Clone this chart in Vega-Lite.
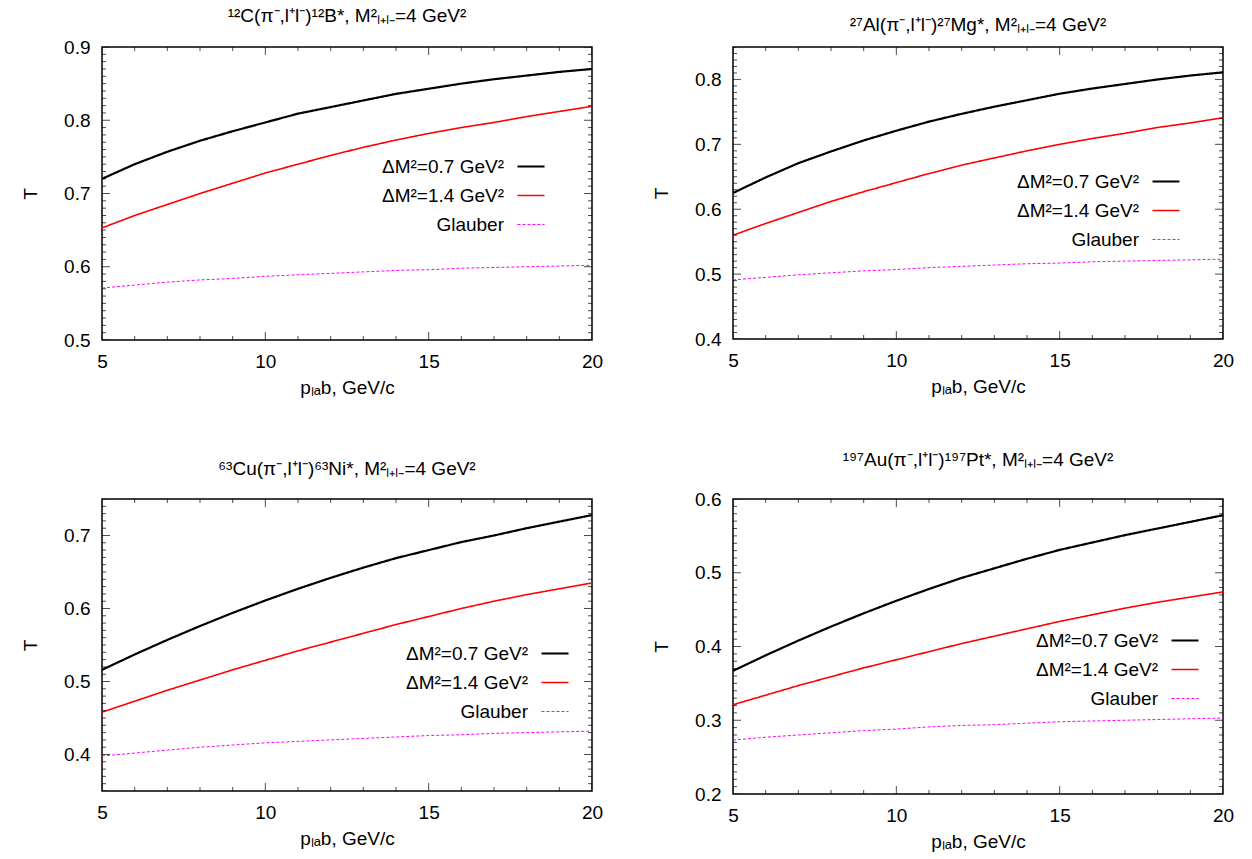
{
  "$schema": "https://vega.github.io/schema/vega-lite/v6.json",
  "padding": {"left": 20, "top": 6, "right": 5, "bottom": 5},
  "datasets": {
    "curves": [
      {"panel":"C","series":"a","p":5,"T":0.720},{"panel":"C","series":"a","p":6,"T":0.740},{"panel":"C","series":"a","p":7,"T":0.757},{"panel":"C","series":"a","p":8,"T":0.772},
      {"panel":"C","series":"a","p":9,"T":0.785},{"panel":"C","series":"a","p":10,"T":0.797},{"panel":"C","series":"a","p":11,"T":0.809},{"panel":"C","series":"a","p":12,"T":0.818},
      {"panel":"C","series":"a","p":13,"T":0.827},{"panel":"C","series":"a","p":14,"T":0.836},{"panel":"C","series":"a","p":15,"T":0.843},{"panel":"C","series":"a","p":16,"T":0.850},
      {"panel":"C","series":"a","p":17,"T":0.856},{"panel":"C","series":"a","p":18,"T":0.861},{"panel":"C","series":"a","p":19,"T":0.866},{"panel":"C","series":"a","p":20,"T":0.870},
      {"panel":"C","series":"b","p":5,"T":0.653},{"panel":"C","series":"b","p":6,"T":0.670},{"panel":"C","series":"b","p":7,"T":0.685},{"panel":"C","series":"b","p":8,"T":0.700},
      {"panel":"C","series":"b","p":9,"T":0.714},{"panel":"C","series":"b","p":10,"T":0.728},{"panel":"C","series":"b","p":11,"T":0.740},{"panel":"C","series":"b","p":12,"T":0.752},
      {"panel":"C","series":"b","p":13,"T":0.763},{"panel":"C","series":"b","p":14,"T":0.773},{"panel":"C","series":"b","p":15,"T":0.782},{"panel":"C","series":"b","p":16,"T":0.790},
      {"panel":"C","series":"b","p":17,"T":0.797},{"panel":"C","series":"b","p":18,"T":0.805},{"panel":"C","series":"b","p":19,"T":0.812},{"panel":"C","series":"b","p":20,"T":0.819},
      {"panel":"C","series":"g","p":5,"T":0.571},{"panel":"C","series":"g","p":6,"T":0.575},{"panel":"C","series":"g","p":7,"T":0.579},{"panel":"C","series":"g","p":8,"T":0.582},
      {"panel":"C","series":"g","p":9,"T":0.584},{"panel":"C","series":"g","p":10,"T":0.587},{"panel":"C","series":"g","p":11,"T":0.589},{"panel":"C","series":"g","p":12,"T":0.591},
      {"panel":"C","series":"g","p":13,"T":0.593},{"panel":"C","series":"g","p":14,"T":0.595},{"panel":"C","series":"g","p":15,"T":0.596},{"panel":"C","series":"g","p":16,"T":0.598},
      {"panel":"C","series":"g","p":17,"T":0.599},{"panel":"C","series":"g","p":18,"T":0.600},{"panel":"C","series":"g","p":19,"T":0.601},{"panel":"C","series":"g","p":20,"T":0.602},

      {"panel":"Al","series":"a","p":5,"T":0.625},{"panel":"Al","series":"a","p":6,"T":0.649},{"panel":"Al","series":"a","p":7,"T":0.671},{"panel":"Al","series":"a","p":8,"T":0.689},
      {"panel":"Al","series":"a","p":9,"T":0.706},{"panel":"Al","series":"a","p":10,"T":0.721},{"panel":"Al","series":"a","p":11,"T":0.735},{"panel":"Al","series":"a","p":12,"T":0.747},
      {"panel":"Al","series":"a","p":13,"T":0.758},{"panel":"Al","series":"a","p":14,"T":0.768},{"panel":"Al","series":"a","p":15,"T":0.778},{"panel":"Al","series":"a","p":16,"T":0.786},
      {"panel":"Al","series":"a","p":17,"T":0.793},{"panel":"Al","series":"a","p":18,"T":0.800},{"panel":"Al","series":"a","p":19,"T":0.806},{"panel":"Al","series":"a","p":20,"T":0.811},
      {"panel":"Al","series":"b","p":5,"T":0.560},{"panel":"Al","series":"b","p":6,"T":0.578},{"panel":"Al","series":"b","p":7,"T":0.595},{"panel":"Al","series":"b","p":8,"T":0.612},
      {"panel":"Al","series":"b","p":9,"T":0.627},{"panel":"Al","series":"b","p":10,"T":0.641},{"panel":"Al","series":"b","p":11,"T":0.655},{"panel":"Al","series":"b","p":12,"T":0.668},
      {"panel":"Al","series":"b","p":13,"T":0.679},{"panel":"Al","series":"b","p":14,"T":0.690},{"panel":"Al","series":"b","p":15,"T":0.700},{"panel":"Al","series":"b","p":16,"T":0.709},
      {"panel":"Al","series":"b","p":17,"T":0.717},{"panel":"Al","series":"b","p":18,"T":0.726},{"panel":"Al","series":"b","p":19,"T":0.733},{"panel":"Al","series":"b","p":20,"T":0.741},
      {"panel":"Al","series":"g","p":5,"T":0.491},{"panel":"Al","series":"g","p":6,"T":0.495},{"panel":"Al","series":"g","p":7,"T":0.499},{"panel":"Al","series":"g","p":8,"T":0.502},
      {"panel":"Al","series":"g","p":9,"T":0.505},{"panel":"Al","series":"g","p":10,"T":0.507},{"panel":"Al","series":"g","p":11,"T":0.510},{"panel":"Al","series":"g","p":12,"T":0.512},
      {"panel":"Al","series":"g","p":13,"T":0.514},{"panel":"Al","series":"g","p":14,"T":0.516},{"panel":"Al","series":"g","p":15,"T":0.517},{"panel":"Al","series":"g","p":16,"T":0.519},
      {"panel":"Al","series":"g","p":17,"T":0.520},{"panel":"Al","series":"g","p":18,"T":0.521},{"panel":"Al","series":"g","p":19,"T":0.522},{"panel":"Al","series":"g","p":20,"T":0.523},

      {"panel":"Cu","series":"a","p":5,"T":0.516},{"panel":"Cu","series":"a","p":6,"T":0.537},{"panel":"Cu","series":"a","p":7,"T":0.557},{"panel":"Cu","series":"a","p":8,"T":0.576},
      {"panel":"Cu","series":"a","p":9,"T":0.594},{"panel":"Cu","series":"a","p":10,"T":0.611},{"panel":"Cu","series":"a","p":11,"T":0.627},{"panel":"Cu","series":"a","p":12,"T":0.642},
      {"panel":"Cu","series":"a","p":13,"T":0.656},{"panel":"Cu","series":"a","p":14,"T":0.669},{"panel":"Cu","series":"a","p":15,"T":0.680},{"panel":"Cu","series":"a","p":16,"T":0.691},
      {"panel":"Cu","series":"a","p":17,"T":0.700},{"panel":"Cu","series":"a","p":18,"T":0.710},{"panel":"Cu","series":"a","p":19,"T":0.719},{"panel":"Cu","series":"a","p":20,"T":0.728},
      {"panel":"Cu","series":"b","p":5,"T":0.458},{"panel":"Cu","series":"b","p":6,"T":0.473},{"panel":"Cu","series":"b","p":7,"T":0.488},{"panel":"Cu","series":"b","p":8,"T":0.502},
      {"panel":"Cu","series":"b","p":9,"T":0.516},{"panel":"Cu","series":"b","p":10,"T":0.529},{"panel":"Cu","series":"b","p":11,"T":0.542},{"panel":"Cu","series":"b","p":12,"T":0.554},
      {"panel":"Cu","series":"b","p":13,"T":0.566},{"panel":"Cu","series":"b","p":14,"T":0.578},{"panel":"Cu","series":"b","p":15,"T":0.589},{"panel":"Cu","series":"b","p":16,"T":0.600},
      {"panel":"Cu","series":"b","p":17,"T":0.610},{"panel":"Cu","series":"b","p":18,"T":0.619},{"panel":"Cu","series":"b","p":19,"T":0.627},{"panel":"Cu","series":"b","p":20,"T":0.635},
      {"panel":"Cu","series":"g","p":5,"T":0.398},{"panel":"Cu","series":"g","p":6,"T":0.402},{"panel":"Cu","series":"g","p":7,"T":0.406},{"panel":"Cu","series":"g","p":8,"T":0.410},
      {"panel":"Cu","series":"g","p":9,"T":0.413},{"panel":"Cu","series":"g","p":10,"T":0.416},{"panel":"Cu","series":"g","p":11,"T":0.418},{"panel":"Cu","series":"g","p":12,"T":0.420},
      {"panel":"Cu","series":"g","p":13,"T":0.422},{"panel":"Cu","series":"g","p":14,"T":0.424},{"panel":"Cu","series":"g","p":15,"T":0.426},{"panel":"Cu","series":"g","p":16,"T":0.427},
      {"panel":"Cu","series":"g","p":17,"T":0.429},{"panel":"Cu","series":"g","p":18,"T":0.430},{"panel":"Cu","series":"g","p":19,"T":0.431},{"panel":"Cu","series":"g","p":20,"T":0.432},

      {"panel":"Au","series":"a","p":5,"T":0.367},{"panel":"Au","series":"a","p":6,"T":0.388},{"panel":"Au","series":"a","p":7,"T":0.408},{"panel":"Au","series":"a","p":8,"T":0.427},
      {"panel":"Au","series":"a","p":9,"T":0.445},{"panel":"Au","series":"a","p":10,"T":0.462},{"panel":"Au","series":"a","p":11,"T":0.478},{"panel":"Au","series":"a","p":12,"T":0.493},
      {"panel":"Au","series":"a","p":13,"T":0.506},{"panel":"Au","series":"a","p":14,"T":0.519},{"panel":"Au","series":"a","p":15,"T":0.531},{"panel":"Au","series":"a","p":16,"T":0.541},
      {"panel":"Au","series":"a","p":17,"T":0.551},{"panel":"Au","series":"a","p":18,"T":0.560},{"panel":"Au","series":"a","p":19,"T":0.569},{"panel":"Au","series":"a","p":20,"T":0.578},
      {"panel":"Au","series":"b","p":5,"T":0.321},{"panel":"Au","series":"b","p":6,"T":0.334},{"panel":"Au","series":"b","p":7,"T":0.347},{"panel":"Au","series":"b","p":8,"T":0.359},
      {"panel":"Au","series":"b","p":9,"T":0.371},{"panel":"Au","series":"b","p":10,"T":0.382},{"panel":"Au","series":"b","p":11,"T":0.393},{"panel":"Au","series":"b","p":12,"T":0.404},
      {"panel":"Au","series":"b","p":13,"T":0.414},{"panel":"Au","series":"b","p":14,"T":0.424},{"panel":"Au","series":"b","p":15,"T":0.434},{"panel":"Au","series":"b","p":16,"T":0.443},
      {"panel":"Au","series":"b","p":17,"T":0.452},{"panel":"Au","series":"b","p":18,"T":0.460},{"panel":"Au","series":"b","p":19,"T":0.467},{"panel":"Au","series":"b","p":20,"T":0.474},
      {"panel":"Au","series":"g","p":5,"T":0.273},{"panel":"Au","series":"g","p":6,"T":0.277},{"panel":"Au","series":"g","p":7,"T":0.280},{"panel":"Au","series":"g","p":8,"T":0.283},
      {"panel":"Au","series":"g","p":9,"T":0.286},{"panel":"Au","series":"g","p":10,"T":0.288},{"panel":"Au","series":"g","p":11,"T":0.291},{"panel":"Au","series":"g","p":12,"T":0.293},
      {"panel":"Au","series":"g","p":13,"T":0.294},{"panel":"Au","series":"g","p":14,"T":0.296},{"panel":"Au","series":"g","p":15,"T":0.298},{"panel":"Au","series":"g","p":16,"T":0.299},
      {"panel":"Au","series":"g","p":17,"T":0.300},{"panel":"Au","series":"g","p":18,"T":0.301},{"panel":"Au","series":"g","p":19,"T":0.302},{"panel":"Au","series":"g","p":20,"T":0.303}
    ],
    "ticks": [
      {"panel":"all","axis":"x","v":5,"kind":"major"},{"panel":"all","axis":"x","v":6,"kind":"minor"},{"panel":"all","axis":"x","v":7,"kind":"minor"},{"panel":"all","axis":"x","v":8,"kind":"minor"},
      {"panel":"all","axis":"x","v":9,"kind":"minor"},{"panel":"all","axis":"x","v":10,"kind":"major"},{"panel":"all","axis":"x","v":11,"kind":"minor"},{"panel":"all","axis":"x","v":12,"kind":"minor"},
      {"panel":"all","axis":"x","v":13,"kind":"minor"},{"panel":"all","axis":"x","v":14,"kind":"minor"},{"panel":"all","axis":"x","v":15,"kind":"major"},{"panel":"all","axis":"x","v":16,"kind":"minor"},
      {"panel":"all","axis":"x","v":17,"kind":"minor"},{"panel":"all","axis":"x","v":18,"kind":"minor"},{"panel":"all","axis":"x","v":19,"kind":"minor"},{"panel":"all","axis":"x","v":20,"kind":"major"},

      {"panel":"C","axis":"y","v":0.50,"kind":"major"},{"panel":"C","axis":"y","v":0.51,"kind":"minor"},{"panel":"C","axis":"y","v":0.52,"kind":"minor"},{"panel":"C","axis":"y","v":0.53,"kind":"minor"},{"panel":"C","axis":"y","v":0.54,"kind":"minor"},
      {"panel":"C","axis":"y","v":0.55,"kind":"minor"},{"panel":"C","axis":"y","v":0.56,"kind":"minor"},{"panel":"C","axis":"y","v":0.57,"kind":"minor"},{"panel":"C","axis":"y","v":0.58,"kind":"minor"},{"panel":"C","axis":"y","v":0.59,"kind":"minor"},
      {"panel":"C","axis":"y","v":0.60,"kind":"major"},{"panel":"C","axis":"y","v":0.61,"kind":"minor"},{"panel":"C","axis":"y","v":0.62,"kind":"minor"},{"panel":"C","axis":"y","v":0.63,"kind":"minor"},{"panel":"C","axis":"y","v":0.64,"kind":"minor"},
      {"panel":"C","axis":"y","v":0.65,"kind":"minor"},{"panel":"C","axis":"y","v":0.66,"kind":"minor"},{"panel":"C","axis":"y","v":0.67,"kind":"minor"},{"panel":"C","axis":"y","v":0.68,"kind":"minor"},{"panel":"C","axis":"y","v":0.69,"kind":"minor"},
      {"panel":"C","axis":"y","v":0.70,"kind":"major"},{"panel":"C","axis":"y","v":0.71,"kind":"minor"},{"panel":"C","axis":"y","v":0.72,"kind":"minor"},{"panel":"C","axis":"y","v":0.73,"kind":"minor"},{"panel":"C","axis":"y","v":0.74,"kind":"minor"},
      {"panel":"C","axis":"y","v":0.75,"kind":"minor"},{"panel":"C","axis":"y","v":0.76,"kind":"minor"},{"panel":"C","axis":"y","v":0.77,"kind":"minor"},{"panel":"C","axis":"y","v":0.78,"kind":"minor"},{"panel":"C","axis":"y","v":0.79,"kind":"minor"},
      {"panel":"C","axis":"y","v":0.80,"kind":"major"},{"panel":"C","axis":"y","v":0.81,"kind":"minor"},{"panel":"C","axis":"y","v":0.82,"kind":"minor"},{"panel":"C","axis":"y","v":0.83,"kind":"minor"},{"panel":"C","axis":"y","v":0.84,"kind":"minor"},
      {"panel":"C","axis":"y","v":0.85,"kind":"minor"},{"panel":"C","axis":"y","v":0.86,"kind":"minor"},{"panel":"C","axis":"y","v":0.87,"kind":"minor"},{"panel":"C","axis":"y","v":0.88,"kind":"minor"},{"panel":"C","axis":"y","v":0.89,"kind":"minor"},
      {"panel":"C","axis":"y","v":0.90,"kind":"major"},

      {"panel":"Al","axis":"y","v":0.40,"kind":"major"},{"panel":"Al","axis":"y","v":0.41,"kind":"minor"},{"panel":"Al","axis":"y","v":0.42,"kind":"minor"},{"panel":"Al","axis":"y","v":0.43,"kind":"minor"},{"panel":"Al","axis":"y","v":0.44,"kind":"minor"},
      {"panel":"Al","axis":"y","v":0.45,"kind":"minor"},{"panel":"Al","axis":"y","v":0.46,"kind":"minor"},{"panel":"Al","axis":"y","v":0.47,"kind":"minor"},{"panel":"Al","axis":"y","v":0.48,"kind":"minor"},{"panel":"Al","axis":"y","v":0.49,"kind":"minor"},
      {"panel":"Al","axis":"y","v":0.50,"kind":"major"},{"panel":"Al","axis":"y","v":0.51,"kind":"minor"},{"panel":"Al","axis":"y","v":0.52,"kind":"minor"},{"panel":"Al","axis":"y","v":0.53,"kind":"minor"},{"panel":"Al","axis":"y","v":0.54,"kind":"minor"},
      {"panel":"Al","axis":"y","v":0.55,"kind":"minor"},{"panel":"Al","axis":"y","v":0.56,"kind":"minor"},{"panel":"Al","axis":"y","v":0.57,"kind":"minor"},{"panel":"Al","axis":"y","v":0.58,"kind":"minor"},{"panel":"Al","axis":"y","v":0.59,"kind":"minor"},
      {"panel":"Al","axis":"y","v":0.60,"kind":"major"},{"panel":"Al","axis":"y","v":0.61,"kind":"minor"},{"panel":"Al","axis":"y","v":0.62,"kind":"minor"},{"panel":"Al","axis":"y","v":0.63,"kind":"minor"},{"panel":"Al","axis":"y","v":0.64,"kind":"minor"},
      {"panel":"Al","axis":"y","v":0.65,"kind":"minor"},{"panel":"Al","axis":"y","v":0.66,"kind":"minor"},{"panel":"Al","axis":"y","v":0.67,"kind":"minor"},{"panel":"Al","axis":"y","v":0.68,"kind":"minor"},{"panel":"Al","axis":"y","v":0.69,"kind":"minor"},
      {"panel":"Al","axis":"y","v":0.70,"kind":"major"},{"panel":"Al","axis":"y","v":0.71,"kind":"minor"},{"panel":"Al","axis":"y","v":0.72,"kind":"minor"},{"panel":"Al","axis":"y","v":0.73,"kind":"minor"},{"panel":"Al","axis":"y","v":0.74,"kind":"minor"},
      {"panel":"Al","axis":"y","v":0.75,"kind":"minor"},{"panel":"Al","axis":"y","v":0.76,"kind":"minor"},{"panel":"Al","axis":"y","v":0.77,"kind":"minor"},{"panel":"Al","axis":"y","v":0.78,"kind":"minor"},{"panel":"Al","axis":"y","v":0.79,"kind":"minor"},
      {"panel":"Al","axis":"y","v":0.80,"kind":"major"},{"panel":"Al","axis":"y","v":0.81,"kind":"minor"},{"panel":"Al","axis":"y","v":0.82,"kind":"minor"},{"panel":"Al","axis":"y","v":0.83,"kind":"minor"},{"panel":"Al","axis":"y","v":0.84,"kind":"minor"},
      {"panel":"Al","axis":"y","v":0.85,"kind":"minor"},

      {"panel":"Cu","axis":"y","v":0.35,"kind":"minor"},{"panel":"Cu","axis":"y","v":0.36,"kind":"minor"},{"panel":"Cu","axis":"y","v":0.37,"kind":"minor"},{"panel":"Cu","axis":"y","v":0.38,"kind":"minor"},{"panel":"Cu","axis":"y","v":0.39,"kind":"minor"},
      {"panel":"Cu","axis":"y","v":0.40,"kind":"major"},{"panel":"Cu","axis":"y","v":0.41,"kind":"minor"},{"panel":"Cu","axis":"y","v":0.42,"kind":"minor"},{"panel":"Cu","axis":"y","v":0.43,"kind":"minor"},{"panel":"Cu","axis":"y","v":0.44,"kind":"minor"},
      {"panel":"Cu","axis":"y","v":0.45,"kind":"minor"},{"panel":"Cu","axis":"y","v":0.46,"kind":"minor"},{"panel":"Cu","axis":"y","v":0.47,"kind":"minor"},{"panel":"Cu","axis":"y","v":0.48,"kind":"minor"},{"panel":"Cu","axis":"y","v":0.49,"kind":"minor"},
      {"panel":"Cu","axis":"y","v":0.50,"kind":"major"},{"panel":"Cu","axis":"y","v":0.51,"kind":"minor"},{"panel":"Cu","axis":"y","v":0.52,"kind":"minor"},{"panel":"Cu","axis":"y","v":0.53,"kind":"minor"},{"panel":"Cu","axis":"y","v":0.54,"kind":"minor"},
      {"panel":"Cu","axis":"y","v":0.55,"kind":"minor"},{"panel":"Cu","axis":"y","v":0.56,"kind":"minor"},{"panel":"Cu","axis":"y","v":0.57,"kind":"minor"},{"panel":"Cu","axis":"y","v":0.58,"kind":"minor"},{"panel":"Cu","axis":"y","v":0.59,"kind":"minor"},
      {"panel":"Cu","axis":"y","v":0.60,"kind":"major"},{"panel":"Cu","axis":"y","v":0.61,"kind":"minor"},{"panel":"Cu","axis":"y","v":0.62,"kind":"minor"},{"panel":"Cu","axis":"y","v":0.63,"kind":"minor"},{"panel":"Cu","axis":"y","v":0.64,"kind":"minor"},
      {"panel":"Cu","axis":"y","v":0.65,"kind":"minor"},{"panel":"Cu","axis":"y","v":0.66,"kind":"minor"},{"panel":"Cu","axis":"y","v":0.67,"kind":"minor"},{"panel":"Cu","axis":"y","v":0.68,"kind":"minor"},{"panel":"Cu","axis":"y","v":0.69,"kind":"minor"},
      {"panel":"Cu","axis":"y","v":0.70,"kind":"major"},{"panel":"Cu","axis":"y","v":0.71,"kind":"minor"},{"panel":"Cu","axis":"y","v":0.72,"kind":"minor"},{"panel":"Cu","axis":"y","v":0.73,"kind":"minor"},{"panel":"Cu","axis":"y","v":0.74,"kind":"minor"},
      {"panel":"Cu","axis":"y","v":0.75,"kind":"minor"},

      {"panel":"Au","axis":"y","v":0.20,"kind":"major"},{"panel":"Au","axis":"y","v":0.21,"kind":"minor"},{"panel":"Au","axis":"y","v":0.22,"kind":"minor"},{"panel":"Au","axis":"y","v":0.23,"kind":"minor"},{"panel":"Au","axis":"y","v":0.24,"kind":"minor"},
      {"panel":"Au","axis":"y","v":0.25,"kind":"minor"},{"panel":"Au","axis":"y","v":0.26,"kind":"minor"},{"panel":"Au","axis":"y","v":0.27,"kind":"minor"},{"panel":"Au","axis":"y","v":0.28,"kind":"minor"},{"panel":"Au","axis":"y","v":0.29,"kind":"minor"},
      {"panel":"Au","axis":"y","v":0.30,"kind":"major"},{"panel":"Au","axis":"y","v":0.31,"kind":"minor"},{"panel":"Au","axis":"y","v":0.32,"kind":"minor"},{"panel":"Au","axis":"y","v":0.33,"kind":"minor"},{"panel":"Au","axis":"y","v":0.34,"kind":"minor"},
      {"panel":"Au","axis":"y","v":0.35,"kind":"minor"},{"panel":"Au","axis":"y","v":0.36,"kind":"minor"},{"panel":"Au","axis":"y","v":0.37,"kind":"minor"},{"panel":"Au","axis":"y","v":0.38,"kind":"minor"},{"panel":"Au","axis":"y","v":0.39,"kind":"minor"},
      {"panel":"Au","axis":"y","v":0.40,"kind":"major"},{"panel":"Au","axis":"y","v":0.41,"kind":"minor"},{"panel":"Au","axis":"y","v":0.42,"kind":"minor"},{"panel":"Au","axis":"y","v":0.43,"kind":"minor"},{"panel":"Au","axis":"y","v":0.44,"kind":"minor"},
      {"panel":"Au","axis":"y","v":0.45,"kind":"minor"},{"panel":"Au","axis":"y","v":0.46,"kind":"minor"},{"panel":"Au","axis":"y","v":0.47,"kind":"minor"},{"panel":"Au","axis":"y","v":0.48,"kind":"minor"},{"panel":"Au","axis":"y","v":0.49,"kind":"minor"},
      {"panel":"Au","axis":"y","v":0.50,"kind":"major"},{"panel":"Au","axis":"y","v":0.51,"kind":"minor"},{"panel":"Au","axis":"y","v":0.52,"kind":"minor"},{"panel":"Au","axis":"y","v":0.53,"kind":"minor"},{"panel":"Au","axis":"y","v":0.54,"kind":"minor"},
      {"panel":"Au","axis":"y","v":0.55,"kind":"minor"},{"panel":"Au","axis":"y","v":0.56,"kind":"minor"},{"panel":"Au","axis":"y","v":0.57,"kind":"minor"},{"panel":"Au","axis":"y","v":0.58,"kind":"minor"},{"panel":"Au","axis":"y","v":0.59,"kind":"minor"},
      {"panel":"Au","axis":"y","v":0.60,"kind":"major"}
    ]
  },
  "spacing": 52,
  "resolve": {"scale": {"color": "independent", "strokeDash": "independent", "strokeWidth": "independent"}, "legend": {"color": "independent", "strokeDash": "independent", "strokeWidth": "independent"}},
  "vconcat": [
    {
      "spacing": 47,
      "resolve": {"scale": {"color": "independent", "strokeDash": "independent", "strokeWidth": "independent"}, "legend": {"color": "independent", "strokeDash": "independent", "strokeWidth": "independent"}},
      "hconcat": [
        {
          "width": 490, "height": 293,
          "title": {"text": "¹²C(π⁻,l⁺l⁻)¹²B*, M²ₗ₊ₗ₋=4 GeV²", "offset": 12},
          "resolve": {"axis": {"x": "independent", "y": "independent"}},
          "layer": [
            {
              "data": {"name": "curves"},
              "transform": [{"filter": "datum.panel === 'C'"}],
              "mark": {"type": "line"},
              "encoding": {
                "x": {"field": "p", "type": "quantitative", "scale": {"domain": [5, 20], "nice": false, "zero": false},
                  "axis": {"orient": "bottom", "title": "pₗₐb, GeV/c", "values": [5,10,15,20], "labelPadding": 12, "titlePadding": 7}},
                "y": {"field": "T", "type": "quantitative", "scale": {"domain": [0.5, 0.9], "nice": false, "zero": false},
                  "axis": {"orient": "left", "title": "T", "values": [0.5,0.6,0.7,0.8,0.9], "format": ".1f", "labelPadding": 12, "titlePadding": 23}},
                "color": {"field": "series", "type": "nominal", "scale": {"domain": ["a","b","g"], "range": ["#000000","#ff0000","#ff00ff"]},
                  "legend": {"orient": "none", "legendX": 406, "legendY": 110, "title": null, "symbolType": "M-60,0M0,0L5.4,0", "labelExpr": "datum.value === 'a' ? 'ΔM²=0.7 GeV²' : datum.value === 'b' ? 'ΔM²=1.4 GeV²' : 'Glauber'"}},
                "strokeDash": {"field": "series", "type": "nominal", "scale": {"domain": ["a","b","g"], "range": [[1,0],[1,0],[3,2]]},
                  "legend": {"orient": "none", "legendX": 406, "legendY": 110, "title": null, "symbolType": "M-60,0M0,0L5.4,0", "labelExpr": "datum.value === 'a' ? 'ΔM²=0.7 GeV²' : datum.value === 'b' ? 'ΔM²=1.4 GeV²' : 'Glauber'"}},
                "strokeWidth": {"field": "series", "type": "nominal", "scale": {"domain": ["a","b","g"], "range": [2.2,1,1.2]},
                  "legend": {"orient": "none", "legendX": 406, "legendY": 110, "title": null, "symbolType": "M-60,0M0,0L5.4,0", "labelExpr": "datum.value === 'a' ? 'ΔM²=0.7 GeV²' : datum.value === 'b' ? 'ΔM²=1.4 GeV²' : 'Glauber'"}}
              }
            },
            {"data": {"name": "ticks"}, "transform": [{"filter": "datum.axis === 'x'"}], "mark": {"type": "tick", "orient": "vertical", "clip": true, "color": "#000000", "thickness": 1},
              "encoding": {"x": {"field": "v", "type": "quantitative", "axis": null}, "y": {"datum": 0.5, "axis": null}, "size": {"field": "kind", "type": "nominal", "scale": {"domain": ["major","minor"], "range": [16,8]}, "legend": null}}},
            {"data": {"name": "ticks"}, "transform": [{"filter": "datum.axis === 'x'"}], "mark": {"type": "tick", "orient": "vertical", "clip": true, "color": "#000000", "thickness": 1},
              "encoding": {"x": {"field": "v", "type": "quantitative", "axis": null}, "y": {"datum": 0.9, "axis": null}, "size": {"field": "kind", "type": "nominal", "scale": {"domain": ["major","minor"], "range": [16,8]}, "legend": null}}},
            {"data": {"name": "ticks"}, "transform": [{"filter": "datum.panel === 'C'"}], "mark": {"type": "tick", "orient": "horizontal", "clip": true, "color": "#000000", "thickness": 1},
              "encoding": {"y": {"field": "v", "type": "quantitative", "axis": null}, "x": {"datum": 5, "axis": null}, "size": {"field": "kind", "type": "nominal", "scale": {"domain": ["major","minor"], "range": [16,8]}, "legend": null}}},
            {"data": {"name": "ticks"}, "transform": [{"filter": "datum.panel === 'C'"}], "mark": {"type": "tick", "orient": "horizontal", "clip": true, "color": "#000000", "thickness": 1},
              "encoding": {"y": {"field": "v", "type": "quantitative", "axis": null}, "x": {"datum": 20, "axis": null}, "size": {"field": "kind", "type": "nominal", "scale": {"domain": ["major","minor"], "range": [16,8]}, "legend": null}}}
          ]
        },
        {
          "width": 490, "height": 292,
          "title": {"text": "²⁷Al(π⁻,l⁺l⁻)²⁷Mg*, M²ₗ₊ₗ₋=4 GeV²", "offset": 12},
          "resolve": {"axis": {"x": "independent", "y": "independent"}},
          "layer": [
            {
              "data": {"name": "curves"},
              "transform": [{"filter": "datum.panel === 'Al'"}],
              "mark": {"type": "line"},
              "encoding": {
                "x": {"field": "p", "type": "quantitative", "scale": {"domain": [5, 20], "nice": false, "zero": false},
                  "axis": {"orient": "bottom", "title": "pₗₐb, GeV/c", "values": [5,10,15,20], "labelPadding": 12, "titlePadding": 7}},
                "y": {"field": "T", "type": "quantitative", "scale": {"domain": [0.4, 0.85], "nice": false, "zero": false},
                  "axis": {"orient": "left", "title": "T", "values": [0.4,0.5,0.6,0.7,0.8], "format": ".1f", "labelPadding": 12, "titlePadding": 23}},
                "color": {"field": "series", "type": "nominal", "scale": {"domain": ["a","b","g"], "range": ["#000000","#ff0000","#ff00ff"]},
                  "legend": {"orient": "none", "legendX": 410, "legendY": 125, "title": null, "symbolType": "M-60,0M0,0L5.4,0", "labelExpr": "datum.value === 'a' ? 'ΔM²=0.7 GeV²' : datum.value === 'b' ? 'ΔM²=1.4 GeV²' : 'Glauber'"}},
                "strokeDash": {"field": "series", "type": "nominal", "scale": {"domain": ["a","b","g"], "range": [[1,0],[1,0],[3,2]]},
                  "legend": {"orient": "none", "legendX": 410, "legendY": 125, "title": null, "symbolType": "M-60,0M0,0L5.4,0", "labelExpr": "datum.value === 'a' ? 'ΔM²=0.7 GeV²' : datum.value === 'b' ? 'ΔM²=1.4 GeV²' : 'Glauber'"}},
                "strokeWidth": {"field": "series", "type": "nominal", "scale": {"domain": ["a","b","g"], "range": [2.2,1,1.2]},
                  "legend": {"orient": "none", "legendX": 410, "legendY": 125, "title": null, "symbolType": "M-60,0M0,0L5.4,0", "labelExpr": "datum.value === 'a' ? 'ΔM²=0.7 GeV²' : datum.value === 'b' ? 'ΔM²=1.4 GeV²' : 'Glauber'"}}
              }
            },
            {"data": {"name": "ticks"}, "transform": [{"filter": "datum.axis === 'x'"}], "mark": {"type": "tick", "orient": "vertical", "clip": true, "color": "#000000", "thickness": 1},
              "encoding": {"x": {"field": "v", "type": "quantitative", "axis": null}, "y": {"datum": 0.4, "axis": null}, "size": {"field": "kind", "type": "nominal", "scale": {"domain": ["major","minor"], "range": [16,8]}, "legend": null}}},
            {"data": {"name": "ticks"}, "transform": [{"filter": "datum.axis === 'x'"}], "mark": {"type": "tick", "orient": "vertical", "clip": true, "color": "#000000", "thickness": 1},
              "encoding": {"x": {"field": "v", "type": "quantitative", "axis": null}, "y": {"datum": 0.85, "axis": null}, "size": {"field": "kind", "type": "nominal", "scale": {"domain": ["major","minor"], "range": [16,8]}, "legend": null}}},
            {"data": {"name": "ticks"}, "transform": [{"filter": "datum.panel === 'Al'"}], "mark": {"type": "tick", "orient": "horizontal", "clip": true, "color": "#000000", "thickness": 1},
              "encoding": {"y": {"field": "v", "type": "quantitative", "axis": null}, "x": {"datum": 5, "axis": null}, "size": {"field": "kind", "type": "nominal", "scale": {"domain": ["major","minor"], "range": [16,8]}, "legend": null}}},
            {"data": {"name": "ticks"}, "transform": [{"filter": "datum.panel === 'Al'"}], "mark": {"type": "tick", "orient": "horizontal", "clip": true, "color": "#000000", "thickness": 1},
              "encoding": {"y": {"field": "v", "type": "quantitative", "axis": null}, "x": {"datum": 20, "axis": null}, "size": {"field": "kind", "type": "nominal", "scale": {"domain": ["major","minor"], "range": [16,8]}, "legend": null}}}
          ]
        }
      ]
    },
    {
      "spacing": 47,
      "resolve": {"scale": {"color": "independent", "strokeDash": "independent", "strokeWidth": "independent"}, "legend": {"color": "independent", "strokeDash": "independent", "strokeWidth": "independent"}},
      "hconcat": [
        {
          "width": 490, "height": 292,
          "title": {"text": "⁶³Cu(π⁻,l⁺l⁻)⁶³Ni*, M²ₗ₊ₗ₋=4 GeV²", "offset": 20},
          "resolve": {"axis": {"x": "independent", "y": "independent"}},
          "layer": [
            {
              "data": {"name": "curves"},
              "transform": [{"filter": "datum.panel === 'Cu'"}],
              "mark": {"type": "line"},
              "encoding": {
                "x": {"field": "p", "type": "quantitative", "scale": {"domain": [5, 20], "nice": false, "zero": false},
                  "axis": {"orient": "bottom", "title": "pₗₐb, GeV/c", "values": [5,10,15,20], "labelPadding": 12, "titlePadding": 7}},
                "y": {"field": "T", "type": "quantitative", "scale": {"domain": [0.35, 0.75], "nice": false, "zero": false},
                  "axis": {"orient": "left", "title": "T", "values": [0.4,0.5,0.6,0.7], "format": ".1f", "labelPadding": 12, "titlePadding": 23}},
                "color": {"field": "series", "type": "nominal", "scale": {"domain": ["a","b","g"], "range": ["#000000","#ff0000","#ff00ff"]},
                  "legend": {"orient": "none", "legendX": 430, "legendY": 145, "title": null, "symbolType": "M-60,0M0,0L5.4,0", "labelExpr": "datum.value === 'a' ? 'ΔM²=0.7 GeV²' : datum.value === 'b' ? 'ΔM²=1.4 GeV²' : 'Glauber'"}},
                "strokeDash": {"field": "series", "type": "nominal", "scale": {"domain": ["a","b","g"], "range": [[1,0],[1,0],[3,2]]},
                  "legend": {"orient": "none", "legendX": 430, "legendY": 145, "title": null, "symbolType": "M-60,0M0,0L5.4,0", "labelExpr": "datum.value === 'a' ? 'ΔM²=0.7 GeV²' : datum.value === 'b' ? 'ΔM²=1.4 GeV²' : 'Glauber'"}},
                "strokeWidth": {"field": "series", "type": "nominal", "scale": {"domain": ["a","b","g"], "range": [2.2,1,1.2]},
                  "legend": {"orient": "none", "legendX": 430, "legendY": 145, "title": null, "symbolType": "M-60,0M0,0L5.4,0", "labelExpr": "datum.value === 'a' ? 'ΔM²=0.7 GeV²' : datum.value === 'b' ? 'ΔM²=1.4 GeV²' : 'Glauber'"}}
              }
            },
            {"data": {"name": "ticks"}, "transform": [{"filter": "datum.axis === 'x'"}], "mark": {"type": "tick", "orient": "vertical", "clip": true, "color": "#000000", "thickness": 1},
              "encoding": {"x": {"field": "v", "type": "quantitative", "axis": null}, "y": {"datum": 0.35, "axis": null}, "size": {"field": "kind", "type": "nominal", "scale": {"domain": ["major","minor"], "range": [16,8]}, "legend": null}}},
            {"data": {"name": "ticks"}, "transform": [{"filter": "datum.axis === 'x'"}], "mark": {"type": "tick", "orient": "vertical", "clip": true, "color": "#000000", "thickness": 1},
              "encoding": {"x": {"field": "v", "type": "quantitative", "axis": null}, "y": {"datum": 0.75, "axis": null}, "size": {"field": "kind", "type": "nominal", "scale": {"domain": ["major","minor"], "range": [16,8]}, "legend": null}}},
            {"data": {"name": "ticks"}, "transform": [{"filter": "datum.panel === 'Cu'"}], "mark": {"type": "tick", "orient": "horizontal", "clip": true, "color": "#000000", "thickness": 1},
              "encoding": {"y": {"field": "v", "type": "quantitative", "axis": null}, "x": {"datum": 5, "axis": null}, "size": {"field": "kind", "type": "nominal", "scale": {"domain": ["major","minor"], "range": [16,8]}, "legend": null}}},
            {"data": {"name": "ticks"}, "transform": [{"filter": "datum.panel === 'Cu'"}], "mark": {"type": "tick", "orient": "horizontal", "clip": true, "color": "#000000", "thickness": 1},
              "encoding": {"y": {"field": "v", "type": "quantitative", "axis": null}, "x": {"datum": 20, "axis": null}, "size": {"field": "kind", "type": "nominal", "scale": {"domain": ["major","minor"], "range": [16,8]}, "legend": null}}}
          ]
        },
        {
          "width": 490, "height": 295,
          "title": {"text": "¹⁹⁷Au(π⁻,l⁺l⁻)¹⁹⁷Pt*, M²ₗ₊ₗ₋=4 GeV²", "offset": 20},
          "resolve": {"axis": {"x": "independent", "y": "independent"}},
          "layer": [
            {
              "data": {"name": "curves"},
              "transform": [{"filter": "datum.panel === 'Au'"}],
              "mark": {"type": "line"},
              "encoding": {
                "x": {"field": "p", "type": "quantitative", "scale": {"domain": [5, 20], "nice": false, "zero": false},
                  "axis": {"orient": "bottom", "title": "pₗₐb, GeV/c", "values": [5,10,15,20], "labelPadding": 12, "titlePadding": 7}},
                "y": {"field": "T", "type": "quantitative", "scale": {"domain": [0.2, 0.6], "nice": false, "zero": false},
                  "axis": {"orient": "left", "title": "T", "values": [0.2,0.3,0.4,0.5,0.6], "format": ".1f", "labelPadding": 12, "titlePadding": 23}},
                "color": {"field": "series", "type": "nominal", "scale": {"domain": ["a","b","g"], "range": ["#000000","#ff0000","#ff00ff"]},
                  "legend": {"orient": "none", "legendX": 429, "legendY": 132, "title": null, "symbolType": "M-60,0M0,0L5.4,0", "labelExpr": "datum.value === 'a' ? 'ΔM²=0.7 GeV²' : datum.value === 'b' ? 'ΔM²=1.4 GeV²' : 'Glauber'"}},
                "strokeDash": {"field": "series", "type": "nominal", "scale": {"domain": ["a","b","g"], "range": [[1,0],[1,0],[3,2]]},
                  "legend": {"orient": "none", "legendX": 429, "legendY": 132, "title": null, "symbolType": "M-60,0M0,0L5.4,0", "labelExpr": "datum.value === 'a' ? 'ΔM²=0.7 GeV²' : datum.value === 'b' ? 'ΔM²=1.4 GeV²' : 'Glauber'"}},
                "strokeWidth": {"field": "series", "type": "nominal", "scale": {"domain": ["a","b","g"], "range": [2.2,1,1.2]},
                  "legend": {"orient": "none", "legendX": 429, "legendY": 132, "title": null, "symbolType": "M-60,0M0,0L5.4,0", "labelExpr": "datum.value === 'a' ? 'ΔM²=0.7 GeV²' : datum.value === 'b' ? 'ΔM²=1.4 GeV²' : 'Glauber'"}}
              }
            },
            {"data": {"name": "ticks"}, "transform": [{"filter": "datum.axis === 'x'"}], "mark": {"type": "tick", "orient": "vertical", "clip": true, "color": "#000000", "thickness": 1},
              "encoding": {"x": {"field": "v", "type": "quantitative", "axis": null}, "y": {"datum": 0.2, "axis": null}, "size": {"field": "kind", "type": "nominal", "scale": {"domain": ["major","minor"], "range": [16,8]}, "legend": null}}},
            {"data": {"name": "ticks"}, "transform": [{"filter": "datum.axis === 'x'"}], "mark": {"type": "tick", "orient": "vertical", "clip": true, "color": "#000000", "thickness": 1},
              "encoding": {"x": {"field": "v", "type": "quantitative", "axis": null}, "y": {"datum": 0.6, "axis": null}, "size": {"field": "kind", "type": "nominal", "scale": {"domain": ["major","minor"], "range": [16,8]}, "legend": null}}},
            {"data": {"name": "ticks"}, "transform": [{"filter": "datum.panel === 'Au'"}], "mark": {"type": "tick", "orient": "horizontal", "clip": true, "color": "#000000", "thickness": 1},
              "encoding": {"y": {"field": "v", "type": "quantitative", "axis": null}, "x": {"datum": 5, "axis": null}, "size": {"field": "kind", "type": "nominal", "scale": {"domain": ["major","minor"], "range": [16,8]}, "legend": null}}},
            {"data": {"name": "ticks"}, "transform": [{"filter": "datum.panel === 'Au'"}], "mark": {"type": "tick", "orient": "horizontal", "clip": true, "color": "#000000", "thickness": 1},
              "encoding": {"y": {"field": "v", "type": "quantitative", "axis": null}, "x": {"datum": 20, "axis": null}, "size": {"field": "kind", "type": "nominal", "scale": {"domain": ["major","minor"], "range": [16,8]}, "legend": null}}}
          ]
        }
      ]
    }
  ],
  "config": {
    "font": "Liberation Sans",
    "background": "#ffffff",
    "view": {"stroke": "#000000", "strokeWidth": 1.5},
    "axis": {"grid": false, "domain": false, "ticks": false, "labelFont": "Liberation Sans", "labelFontSize": 19, "labelColor": "#000000", "titleFont": "Liberation Sans", "titleFontSize": 19, "titleFontWeight": "normal", "titleColor": "#000000", "labelFlush": false, "labelOverlap": false},
    "title": {"font": "Liberation Sans", "fontSize": 19, "fontWeight": "normal", "anchor": "middle", "baseline": "alphabetic", "color": "#000000"},
    "legend": {"labelFont": "Liberation Sans", "labelFontSize": 19, "labelColor": "#000000", "padding": 0, "rowPadding": 9, "labelLimit": 500, "labelAlign": "right", "labelOffset": -23, "symbolSize": 100}
  }
}
